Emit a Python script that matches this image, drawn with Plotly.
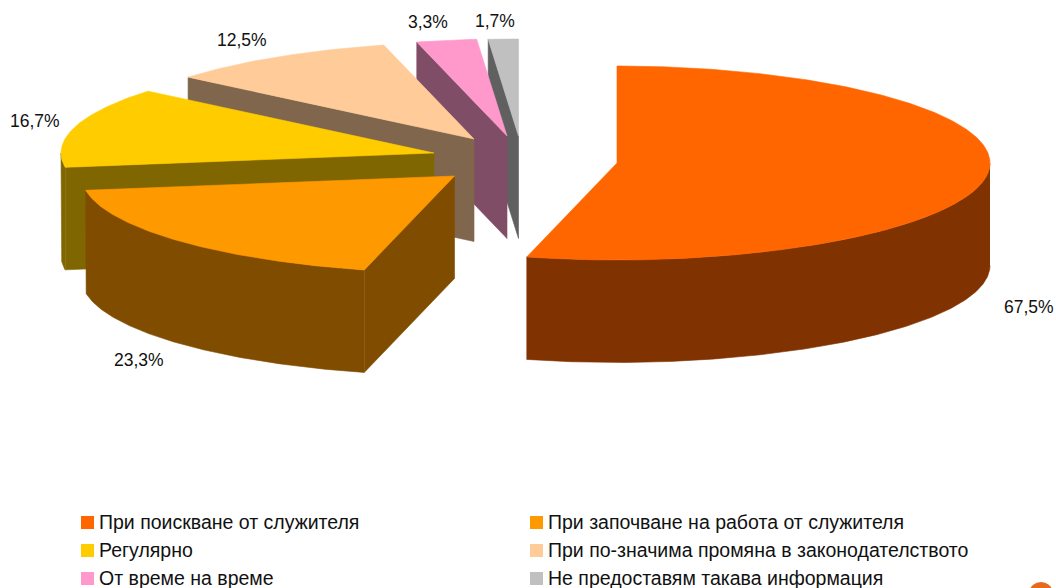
import numpy as np
import plotly.graph_objects as go

categories = ["При поискване от служителя", "При започване на работа от служителя", "Регулярно",
              "При по-значима промяна в законодателството", "От време на време",
              "Не предоставям такава информация"]
values = [67.5, 23.3, 16.7, 12.5, 3.3, 1.7]
value_labels = ["67,5%", "23,3%", "16,7%", "12,5%", "3,3%", "1,7%"]
top_colors = ["#FF6600", "#FF9900", "#FFCC00", "#FFCC99", "#FF99CC", "#C0C0C0"]
side_colors = ["#803300", "#804D00", "#806600", "#80664D", "#804D66", "#606060"]

# exploded apex of each slice (canvas pixels), and the projection of the disc
apex_x = [617, 454.5, 434, 474, 507, 518.5]
apex_y = [163, 176, 153, 139, 136, 136]
RX, RY, DEPTH = 373, 97, 102.5
WARP = 1.02  # slight perspective squeeze of the disc near its vertical axis
label_x = [1029, 139, 35, 242, 428, 495]
label_y = [307, 360, 121, 40, 22, 21]
legend_x = [87.5, 536.5, 87.5, 536.5, 87.5, 536.5]
legend_y = [522.5, 522.5, 550.5, 550.5, 578.5, 578.5]
FONT = "Liberation Sans, Arial, sans-serif"

fracs = np.array(values) / sum(values) * 360
ends = np.cumsum(fracs)
starts = ends - fracs


def rim(cx, cy, a0, a1, dy=0.0):
    t = np.radians(np.linspace(a0, a1, max(2, int(abs(a1 - a0) * 2) + 2)))
    s = np.sin(t)
    return cx + RX * np.sign(s) * np.abs(s) ** WARP, cy - RY * np.cos(t) + dy


def poly(xs, ys, color, name):
    return go.Scatter(x=list(xs), y=list(ys), mode="lines", fill="toself", fillcolor=color,
                      line=dict(color=color, width=0.6), name=name, hoverinfo="name", showlegend=False)


fig = go.Figure()
for i in range(len(values) - 1, -1, -1):
    cx, cy, a0, a1 = apex_x[i], apex_y[i], starts[i], ends[i]
    name = f"{categories[i]}: {value_labels[i]}"
    if np.sin(np.radians(a0)) < -1e-6:  # cut face turned toward the viewer
        rx0, ry0 = rim(cx, cy, a0, a0)
        fig.add_trace(poly([cx, rx0[0], rx0[0], cx, cx],
                           [cy, ry0[0], ry0[0] + DEPTH, cy + DEPTH, cy], side_colors[i], name))
    lo, hi = max(a0, 90), min(a1, 270)
    if hi > lo:  # outer wall on the front half of the disc
        wx, wy = rim(cx, cy, lo, hi)
        fig.add_trace(poly(np.r_[wx, wx[::-1]], np.r_[wy, wy[::-1] + DEPTH], side_colors[i], name))
    tx, ty = rim(cx, cy, a0, a1)
    fig.add_trace(poly(np.r_[cx, tx, cx], np.r_[cy, ty, cy], top_colors[i], name))

fig.add_trace(go.Scatter(x=legend_x, y=legend_y, mode="markers", showlegend=False, hoverinfo="skip",
                         marker=dict(symbol="square", size=13, color=top_colors, line=dict(width=0))))

for i, c in enumerate(categories):
    fig.add_annotation(x=legend_x[i] + 9.5, y=legend_y[i] - 0.5, text=c, showarrow=False,
                       xanchor="left", yanchor="middle",
                       font=dict(family=FONT, size=19.5, color="#111111"))
    fig.add_annotation(x=label_x[i], y=label_y[i], text=value_labels[i], showarrow=False,
                       xanchor="center", yanchor="middle",
                       font=dict(family=FONT, size=17.5, color="#111111"))

# cropped logo at the bottom-right corner of the slide
fig.add_shape(type="circle", x0=1030, x1=1052, y0=582, y1=600, fillcolor="#E8691E",
              line=dict(width=0), layer="above")

fig.update_layout(width=1056, height=588, margin=dict(l=0, r=0, t=0, b=0),
                  paper_bgcolor="white", plot_bgcolor="white", showlegend=False,
                  xaxis=dict(range=[0, 1056], visible=False, fixedrange=True),
                  yaxis=dict(range=[588, 0], visible=False, fixedrange=True))
fig.write_html("out.html", post_script="document.body.style.margin='0';document.body.style.overflow='hidden';",
               config={"displayModeBar": False})
